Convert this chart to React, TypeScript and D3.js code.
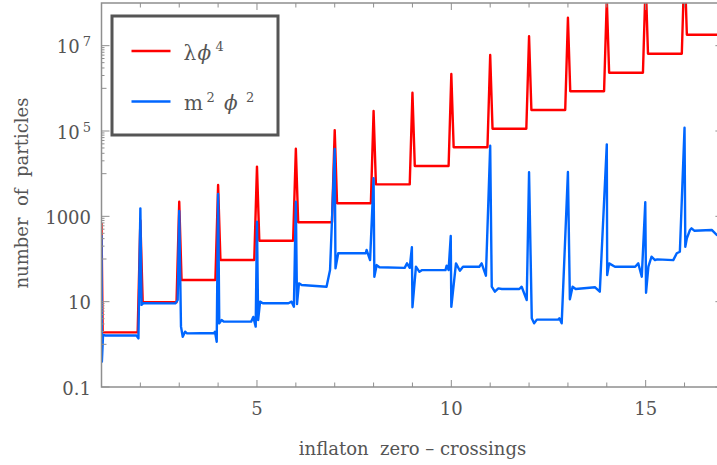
import React from 'react';
import * as d3 from 'd3';

// crossing numbers where the spikes sit
const crossings = [2, 3, 4, 5, 6, 7, 8, 9, 10, 11, 12, 13, 14, 15, 16];

// lambda phi^4: plateau between crossings, and spike height at each crossing
const quarticStart = 700;
const quarticPlateaus = [
  1.91, 9.7, 32.2, 94.7, 268, 725, 2020, 5620, 15100, 41500, 113000, 310000,
  851000, 2320000, 6470000, 18000000,
];
const quarticPeaks = [
  800, 2200, 5420, 14600, 38500, 105000, 294000, 789000, 2160000, 6040000,
  16600000, 45200000, 124000000, 340000000, 920000000,
];

// m^2 phi^2
const quadratic: [number, number][] = [
  [1.0, 365], [1.01, 0.39], [1.04, 1.66], [1.1, 1.61], [1.9, 1.61], [1.95, 1.38],
  [2.0, 1540], [2.03, 8.4], [2.08, 9.2], [2.9, 9.1], [2.96, 10.9],
  [3.0, 1330], [3.045, 2.6], [3.09, 1.51], [3.15, 1.98], [3.2, 1.81], [3.9, 1.85], [3.92, 1.98], [3.964, 1.15],
  [4.0, 3340], [4.03, 3.1], [4.09, 3.7], [4.15, 3.4], [4.85, 3.4], [4.905, 4.4], [4.967, 2.6],
  [5.0, 748], [5.03, 3.7], [5.08, 10], [5.15, 9.2], [5.81, 9.2], [5.89, 10], [5.95, 7.6],
  [6.0, 2200], [6.03, 8.8], [6.08, 26.9], [6.15, 24.5], [6.79, 22.4], [6.88, 55],
  [7.0, 37800], [7.02, 60.5], [7.09, 136], [7.8, 136], [7.82, 163], [7.91, 94.7],
  [8.0, 7780], [8.02, 38.5], [8.08, 72], [8.15, 64], [8.8, 62], [8.86, 79], [8.93, 62],
  [8.985, 188], [9.0, 7.4], [9.09, 66], [9.18, 50], [9.25, 55], [9.85, 55], [9.88, 70], [9.93, 55],
  [9.985, 346], [10.0, 7.6], [10.12, 79], [10.22, 53], [10.3, 66], [10.72, 66], [10.78, 79], [10.89, 40.6],
  [11.0, 45200], [11.04, 22.4], [11.12, 17.1], [11.21, 20.5], [11.3, 19.8], [11.75, 19.8], [11.81, 22.4], [11.94, 10.9],
  [12.0, 10800], [12.07, 4.07], [12.13, 3.11], [12.2, 3.8], [12.75, 3.8], [12.78, 4.07], [12.84, 3.11],
  [13.0, 10900], [13.05, 11.4], [13.12, 22.4], [13.2, 19.8], [13.7, 21.7], [13.82, 17.1],
  [14.0, 48700], [14.01, 42], [14.06, 79], [14.21, 66], [14.73, 66], [14.81, 79], [14.9, 38.5],
  [14.99, 2130], [15.01, 16.2], [15.07, 66], [15.15, 113], [15.24, 94.7], [15.3, 98], [15.71, 94], [15.8, 136], [15.88, 148],
  [16.0, 119000], [16.02, 194], [16.06, 305], [16.14, 479], [16.18, 524], [16.25, 460], [16.7, 479], [16.83, 365], [17.0, 380],
];

const yMajor = [0.1, 10, 1000, 1e5, 1e7];
const yMedium = [1, 100, 1e4, 1e6];
const yFineDecades = [1, 100, 1e4, 1e6];
const xMajor = [5, 10, 15];

const W = 717;
const H = 465;
const left = 101.5;
const right = 723.4;
const top = 3;
const bottom = 387;

const grey = '#8f8f8f';
const textGrey = '#555';
const font = 'DejaVu Serif';

const quarticPoints = (): [number, number][] => {
  const pts: [number, number][] = [[1.0, quarticStart], [1.03, quarticPlateaus[0]]];
  crossings.forEach((n, i) => {
    pts.push([n - 0.07, quarticPlateaus[i]]);
    pts.push([n, quarticPeaks[i]]);
    pts.push([n + 0.06, quarticPlateaus[i + 1]]);
  });
  pts.push([17, quarticPlateaus[quarticPlateaus.length - 1]]);
  return pts;
};

export default function App() {
  const x = d3.scaleLinear().domain([1, 17]).range([left, right]);
  const y = d3.scaleLog().domain([0.1, 1e8]).range([bottom, top]);
  const line = d3
    .line<[number, number]>()
    .x(d => x(d[0]))
    .y(d => y(d[1]));

  const fine: number[] = [];
  yFineDecades.forEach(d => {
    for (let k = 2; k <= 9; k++) fine.push(k * d);
  });
  const xMinor = d3.range(2, 17).filter(v => !xMajor.includes(v));

  const yLabel = (v: number) => {
    const e = Math.round(Math.log10(v));
    if (e >= 5) {
      return (
        <>
          10
          <tspan dx={3} dy={-7} fontSize={13}>
            {String(e)}
          </tspan>
        </>
      );
    }
    return v === 0.1 ? '0.1' : String(v);
  };

  return (
    <svg
      width={W}
      height={H}
      style={{ position: 'absolute', left: 0, top: 0, background: '#fff' }}
      fontFamily={font}
    >
      <defs>
        <clipPath id="plot">
          <rect x={left} y={top} width={right - left} height={bottom - top} />
        </clipPath>
      </defs>

      <g clipPath="url(#plot)" fill="none" strokeLinejoin="round">
        <path d={line(quarticPoints()) || ''} stroke="#ff0000" strokeWidth={2.4} />
        <path d={line(quadratic) || ''} stroke="#0066ff" strokeWidth={2.4} />
      </g>

      {/* frame */}
      <rect x={left} y={top} width={right - left} height={bottom - top} fill="none" stroke={grey} strokeWidth={1.5} />

      {/* ticks on all four sides, pointing in */}
      <g stroke={grey} strokeWidth={1}>
        {xMajor.map(v => (
          <g key={'xm' + v}>
            <line x1={x(v)} x2={x(v)} y1={bottom} y2={bottom - 7} />
            <line x1={x(v)} x2={x(v)} y1={top} y2={top + 7} />
          </g>
        ))}
        {xMinor.map(v => (
          <g key={'xn' + v}>
            <line x1={x(v)} x2={x(v)} y1={bottom} y2={bottom - 4.5} />
            <line x1={x(v)} x2={x(v)} y1={top} y2={top + 4.5} />
          </g>
        ))}
        {yMajor.map(v => (
          <g key={'ym' + v}>
            <line x1={left} x2={left + 8} y1={y(v)} y2={y(v)} />
            <line x1={right} x2={right - 8} y1={y(v)} y2={y(v)} />
          </g>
        ))}
        {yMedium.map(v => (
          <g key={'yd' + v}>
            <line x1={left} x2={left + 5} y1={y(v)} y2={y(v)} />
            <line x1={right} x2={right - 5} y1={y(v)} y2={y(v)} />
          </g>
        ))}
        {fine.map(v => (
          <g key={'yf' + v}>
            <line x1={left} x2={left + 3} y1={y(v)} y2={y(v)} />
            <line x1={right} x2={right - 3} y1={y(v)} y2={y(v)} />
          </g>
        ))}
      </g>

      {/* tick labels */}
      <g fill={textGrey} fontSize={18}>
        {xMajor.map(v => (
          <text key={'xl' + v} x={x(v)} y={415} textAnchor="middle">
            {v}
          </text>
        ))}
        {yMajor.map(v => (
          <text key={'yl' + v} x={91} y={y(v) + 7.5} textAnchor="end">
            {yLabel(v)}
          </text>
        ))}
      </g>

      {/* axis titles */}
      <text
        x={412.5}
        y={455}
        textAnchor="middle"
        fontSize={18}
        fill={textGrey}
        style={{ whiteSpace: 'pre' }}
      >
        {'inflaton  zero \u2013 crossings'}
      </text>
      <text
        transform={`translate(28,${(top + bottom) / 2 - 2}) rotate(-90)`}
        textAnchor="middle"
        fontSize={18}
        fill={textGrey}
        style={{ whiteSpace: 'pre' }}
      >
        {'number  of  particles'}
      </text>

      {/* legend */}
      <g>
        <rect x={112} y={16} width={166} height={119} fill="#fff" stroke="#555" strokeWidth={3} />
        <line x1={131.5} x2={170.5} y1={51} y2={51} stroke="#ff0000" strokeWidth={2.5} />
        <line x1={131.5} x2={170.5} y1={101.5} y2={101.5} stroke="#0066ff" strokeWidth={2.5} />
        <text fontSize={20} fill={textGrey}>
          <tspan x={183.5} y={59.5}>{'λ'}</tspan>
          <tspan x={197.5} y={59.5} fontStyle="italic">{'ϕ'}</tspan>
          <tspan x={215.5} y={50.5} fontSize={13}>4</tspan>
        </text>
        <text fontSize={20} fill={textGrey}>
          <tspan x={184} y={110}>m</tspan>
          <tspan x={206.5} y={101.5} fontSize={13}>2</tspan>
          <tspan x={224} y={110} fontStyle="italic">{'ϕ'}</tspan>
          <tspan x={246} y={101.5} fontSize={13}>2</tspan>
        </text>
      </g>
    </svg>
  );
}
